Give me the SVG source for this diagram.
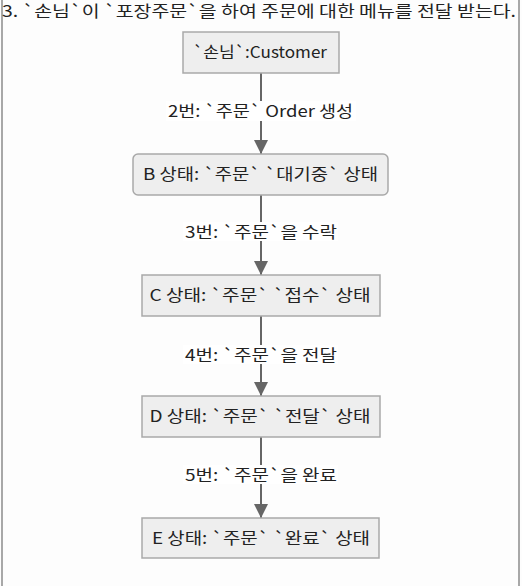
<svg xmlns="http://www.w3.org/2000/svg" width="522" height="586" viewBox="0 0 522 586">
<style>
  text { font-family: "Noto Sans CJK KR", "Noto Sans", sans-serif; fill: #222; }
  .title { font-size: 16px; }
  .node rect { fill: #eeeeee; stroke: #a9a9a9; stroke-width: 1.5; }
  .node text { font-size: 16px; text-anchor: middle; }
  .edge line { stroke: #666; stroke-width: 2; }
  .lblbg { fill: #ffffff; }
  .lbl { font-size: 16px; text-anchor: middle; }
</style>
<defs>
  <marker id="arrow" viewBox="0 0 14 14" refX="14" refY="7" markerWidth="14" markerHeight="14" markerUnits="userSpaceOnUse" orient="auto">
    <path d="M0,0 L14,7 L0,14 z" fill="#666"/>
  </marker>
</defs>
<rect x="0" y="0" width="522" height="586" fill="#fdfdfd"/>
<rect id="frame" x="2" y="-4" width="517" height="600" fill="none" stroke="#a8a8a8" stroke-width="2"/>
<text class="title" x="2" y="17" textLength="514" lengthAdjust="spacingAndGlyphs">3. `손님`이 `포장주문`을 하여 주문에 대한 메뉴를 전달 받는다.</text>

<g id="connectors" class="edge">
  <line x1="261" y1="73" x2="261" y2="154" marker-end="url(#arrow)"/>
  <line x1="261" y1="195" x2="261" y2="275" marker-end="url(#arrow)"/>
  <line x1="261" y1="316" x2="261" y2="396" marker-end="url(#arrow)"/>
  <line x1="261" y1="437" x2="261" y2="518" marker-end="url(#arrow)"/>
  <g id="label-2">
    <rect class="lblbg" x="166" y="101" width="190" height="20"/>
    <text class="lbl" x="260.5" y="117" textLength="185" lengthAdjust="spacingAndGlyphs">2번: `주문` Order 생성</text>
  </g>
  <g id="label-3">
    <rect class="lblbg" x="183" y="222" width="155" height="19"/>
    <text class="lbl" x="261" y="238" textLength="152" lengthAdjust="spacingAndGlyphs">3번: `주문`을 수락</text>
  </g>
  <g id="label-4">
    <rect class="lblbg" x="183" y="345" width="155" height="19"/>
    <text class="lbl" x="261" y="361" textLength="152" lengthAdjust="spacingAndGlyphs">4번: `주문`을 전달</text>
  </g>
  <g id="label-5">
    <rect class="lblbg" x="183" y="465" width="155" height="19"/>
    <text class="lbl" x="261" y="481" textLength="152" lengthAdjust="spacingAndGlyphs">5번: `주문`을 완료</text>
  </g>
</g>

<g id="customer" class="node">
  <rect x="183" y="32" width="156" height="41"/>
  <text x="260" y="58" textLength="134" lengthAdjust="spacingAndGlyphs">`손님`:Customer</text>
</g>
<g id="stateB" class="node">
  <rect x="133" y="154" width="255" height="41" rx="5" ry="5"/>
  <text x="260.5" y="180" textLength="235" lengthAdjust="spacingAndGlyphs">B 상태: `주문` `대기중` 상태</text>
</g>
<g id="stateC" class="node">
  <rect x="142" y="275" width="238" height="41"/>
  <text x="260" y="301" textLength="221" lengthAdjust="spacingAndGlyphs">C 상태: `주문` `접수` 상태</text>
</g>
<g id="stateD" class="node">
  <rect x="142" y="396" width="238" height="41"/>
  <text x="260" y="422" textLength="221" lengthAdjust="spacingAndGlyphs">D 상태: `주문` `전달` 상태</text>
</g>
<g id="stateE" class="node">
  <rect x="142" y="518" width="237" height="40"/>
  <text x="261" y="544" textLength="218" lengthAdjust="spacingAndGlyphs">E 상태: `주문` `완료` 상태</text>
</g>
</svg>
